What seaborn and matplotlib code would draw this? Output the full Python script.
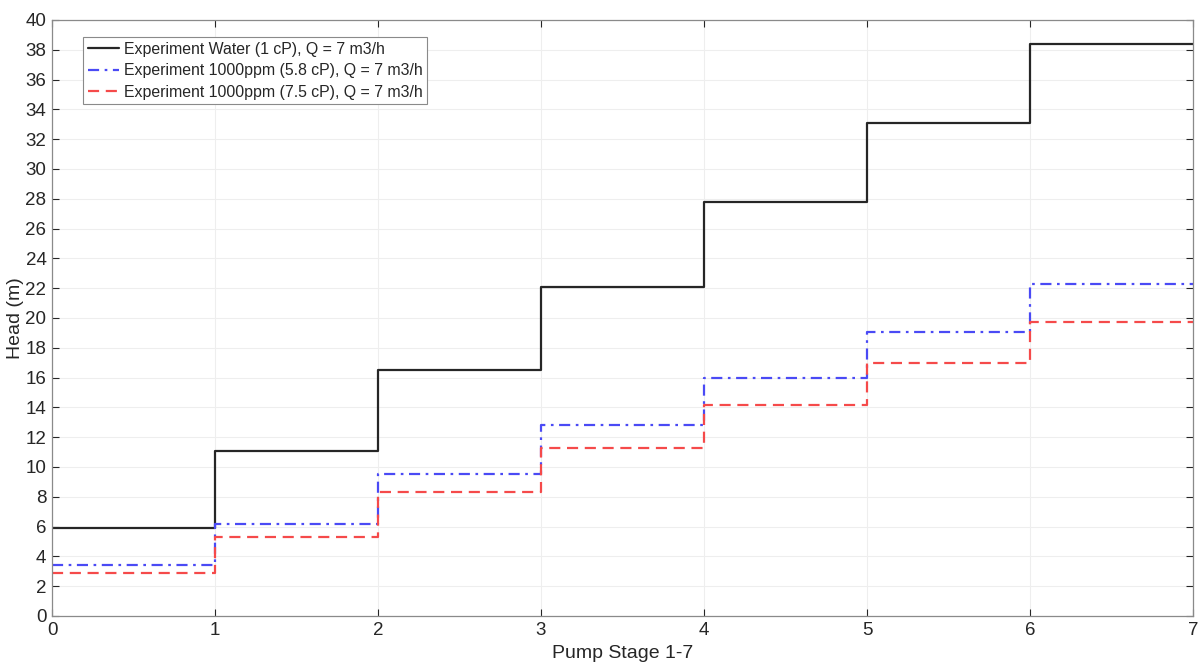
import matplotlib
matplotlib.use('Agg')
import matplotlib.pyplot as plt
import seaborn as sns
import pandas as pd

# Stage data (head at each pump stage, step plot)
stages = [0, 1, 2, 3, 4, 5, 6, 7]
water_head = [5.9, 11.1, 16.5, 22.1, 27.8, 33.1, 38.4, 38.4]
ppm58_head = [3.45, 6.2, 9.5, 12.8, 16.0, 19.05, 22.3, 22.3]
ppm75_head = [2.9, 5.3, 8.3, 11.3, 14.15, 16.95, 19.75, 19.75]

labels = [
    "Experiment Water (1 cP), Q = 7 m3/h",
    "Experiment 1000ppm (5.8 cP), Q = 7 m3/h",
    "Experiment 1000ppm (7.5 cP), Q = 7 m3/h",
]

sns.set_style("white")
plt.rcParams['font.family'] = ['Liberation Sans', 'DejaVu Sans']

fig = plt.figure(figsize=(12.03, 6.69), dpi=100)
ax = fig.add_axes([52 / 1203, 1 - 616 / 669, (1193 - 52) / 1203, (616 - 20) / 669])

styles = [("#262626", "-"), ("#4a4af5", (0, (5, 2.5, 1.2, 2.5))), ("#f54a4a", (0, (5, 3)))]
for heads, label, (color, ls) in zip([water_head, ppm58_head, ppm75_head], labels, styles):
    df = pd.DataFrame({"stage": stages, "head": heads})
    sns.lineplot(data=df, x="stage", y="head", ax=ax, color=color, linestyle=ls,
                 linewidth=1.6, drawstyle="steps-post", label=label)

ax.set_xlim(0, 7)
ax.set_ylim(0, 40)
ax.set_xticks(range(0, 8))
ax.set_yticks(range(0, 41, 2))
ax.grid(True, color="#eeeeee", linewidth=0.8)
ax.tick_params(direction="in", length=5, width=0.8, colors="#262626", labelsize=13.5,
               top=True, right=True, bottom=True, left=True, pad=4)
for sp in ax.spines.values():
    sp.set_color("#8a8a8a")
    sp.set_linewidth(0.9)

ax.set_xlabel("Pump Stage 1-7", fontsize=14, color="#262626", labelpad=5)
ax.set_ylabel("Head (m)", fontsize=14, color="#262626", labelpad=1)

leg = ax.legend(loc="upper left", bbox_to_anchor=(0.027, 0.971), borderaxespad=0,
                fontsize=11.4, frameon=True, fancybox=False, framealpha=1, edgecolor="#8a8a8a",
                handlelength=2.0, handletextpad=0.3, borderpad=0.3, labelspacing=0.4)
leg.get_frame().set_linewidth(0.8)

fig.savefig("out.png", dpi=100)
